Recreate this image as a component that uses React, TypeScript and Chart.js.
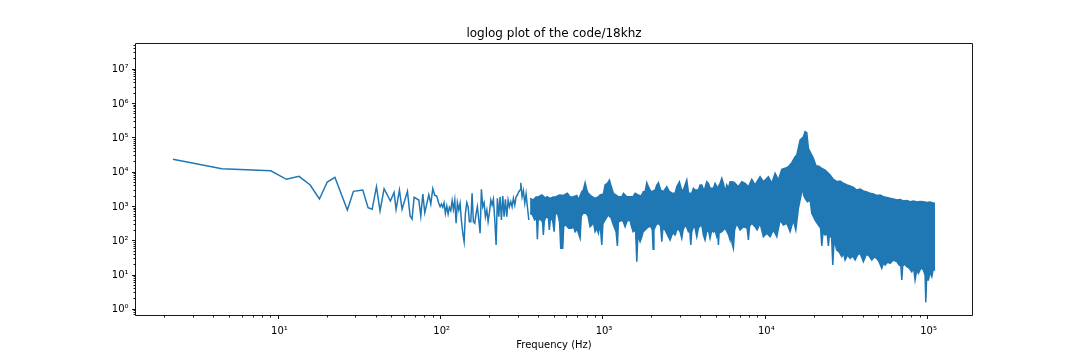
import { useEffect, useRef } from "react";
import { Chart, registerables } from "chart.js";

Chart.register(...registerables);

// ---- Data (frequency in Hz, magnitude) ----
// Low-frequency trace (individually visible samples)
const traceFreq = [
  2.24, 4.48, 8.98, 11.2, 13.4, 15.7, 17.9, 20.0, 22.3, 26.6,
  29.0, 33.1, 35.7, 37.8, 40.2, 42.3, 44.8, 49.0, 51.6, 53.1,
  55.7, 57.8, 62.4, 64.8, 66.6, 68.6, 73.3, 75.4, 77.6, 79.8,
  84.5, 86.9, 89.4, 91.9, 94.6,
  97.3, 99.2, 101.0, 103.0, 104.9, 106.9, 109.0, 111.1, 113.1, 115.4,
  117.6, 119.7, 122.1, 124.4, 126.7, 129.3, 131.7, 134.1, 136.8, 139.4,
  142.0, 144.8, 147.5, 150.3, 153.3, 156.1, 159.0, 162.2, 165.3, 168.3,
  171.7, 174.9, 178.2, 181.7, 185.1, 188.6, 192.4, 195.9, 199.6, 203.6,
  207.4, 211.2, 215.4, 219.5, 223.5, 228.0, 232.3, 236.6, 241.3, 245.8,
  250.4, 255.4, 260.2, 265.0, 270.4, 275.4, 280.5, 286.2, 291.5, 296.9,
  302.9, 308.5, 311.6, 317.4, 323.3, 329.8, 335.9, 342.2, 349.1,
];
const traceMag = [
  23700, 12600, 11000, 6180, 7560, 4220, 1650, 5160, 7070, 787,
  2760, 3010, 918, 825, 3760, 736, 3290, 1440, 2580, 825,
  3010, 825, 2760, 526, 430, 1850, 1540, 526, 2300, 656,
  2200, 1180, 3290, 2110, 2010,
  1234, 982, 1177, 943, 1285, 630, 1029, 602, 943, 751,
  1469, 825, 1540, 322, 1285, 787, 1234, 402, 165, 94,
  630, 1285, 982, 359, 359, 2415, 359, 322, 630, 982,
  402, 165, 3160, 982, 1285, 502, 787, 359, 657, 1540,
  1101, 1614, 402, 75, 1726, 502, 1922, 402, 2015, 502,
  1614, 502, 1540, 982, 1374, 982, 1726, 1101, 1922, 2155,
  2689, 3015, 4922, 1922, 2876, 1234, 2304, 982, 402,
];

// Dense part: upper envelope of the sample cloud
const bandTopFreq = [
  355.5, 371, 387, 401, 421, 440, 452, 472, 493, 514,
  539, 570, 603, 627, 657, 690, 705, 740, 757, 776,
  795, 809, 833, 863, 894, 937, 960, 1006, 1030, 1064,
  1095, 1117, 1159, 1204, 1244, 1306, 1336, 1402, 1469, 1533,
  1577, 1645, 1717, 1774, 1817, 1861, 1904, 1979, 2094, 2145,
  2195, 2264, 2356, 2472, 2554, 2665, 2781, 2849, 2956, 3050,
  3129, 3205, 3283, 3368, 3525, 3606, 3693, 3871, 3965, 4062,
  4197, 4360, 4461, 4569, 4788, 4905, 5082, 5266, 5394, 5518,
  5653, 5791, 5924, 6069, 6360, 6515, 6827, 7164, 7508, 7868,
  8257, 8652, 9288, 9733, 10450, 10966, 11492, 12043, 12638, 13243,
  13878, 14564, 15262, 15634, 16384, 16784, 17169, 17588, 18017, 18431,
  18881, 19786, 20559, 21240, 22290, 23358, 24478, 25076, 26166, 27576,
  28898, 30283, 31914, 33301, 34898, 36622, 38378, 40217, 42204, 44227,
  46347, 48637, 50969, 53412, 56052, 58739, 61554, 64596, 67692, 70937,
  74442, 78010, 81749, 85789, 89902, 94211, 98857, 103612, 108116, 111227,
];
const bandTopMag = [
  1730, 1540, 1885, 1924, 2156, 1763, 1924, 1726, 1885, 1924,
  2156, 2085, 2417, 1885, 1924, 2085, 1541, 2691, 3016, 4925,
  3016, 2466, 2156, 1885, 1726, 1924, 2156, 2306, 4220, 4730,
  5903, 4220, 2417, 2156, 1924, 1924, 2417, 1924, 1924, 1924,
  2417, 2156, 2016, 2691, 2637, 4925, 3765, 2637, 3016, 4220,
  4925, 3016, 2691, 3765, 2821, 2417, 2417, 3765, 5267, 3016,
  3016, 4220, 5903, 2417, 2417, 3381, 3016, 3016, 4220, 4220,
  2821, 5267, 4730, 3381, 3381, 4730, 3450, 4730, 6617, 4730,
  2691, 4220, 3381, 5267, 5161, 4730, 3765, 5267, 4730, 3765,
  6187, 4220, 7368, 5267, 7368, 4730, 9257, 5903, 12111, 12953,
  14418, 18866, 28223, 31634, 86630, 97090, 108100, 151190, 141410, 49611,
  39485, 25350, 15116, 15116, 12953, 11556, 9257, 8257, 6313, 5267,
  5520, 4730, 4220, 3946, 3568, 3016, 3226, 2821, 2637, 2417,
  2306, 2085, 2156, 1924, 1823, 1726, 1648, 1541, 1594, 1441,
  1490, 1375, 1441, 1348, 1394, 1375, 1303, 1348, 1260, 1235,
];

// Dense part: lower envelope (with the deep single-bin dips)
const bandBottomFreq = [
  355.5, 368, 379, 390, 394, 399, 416, 424, 429, 435,
  446, 461, 467, 474, 489, 500, 508, 525, 540, 549,
  565, 573, 592, 614, 642, 657, 673, 692, 723, 735,
  754, 787, 809, 833, 853, 873, 894, 916, 937, 960,
  983, 999, 1030, 1075, 1122, 1159, 1204, 1227, 1244, 1306,
  1336, 1368, 1408, 1469, 1490, 1533, 1588, 1615, 1641, 1693,
  1734, 1766, 1817, 1869, 1910, 1979, 2013, 2036, 2059, 2124,
  2201, 2264, 2303, 2339, 2413, 2529, 2591, 2654, 2723, 2781,
  2882, 2986, 3059, 3115, 3205, 3297, 3359, 3431, 3475, 3520,
  3606, 3693, 3784, 3871, 3965, 4062, 4155, 4256, 4348, 4461,
  4569, 4681, 4802, 4905, 5025, 5097, 5141, 5192, 5394, 5518,
  5653, 5816, 5941, 6069, 6155, 6243, 6360, 6469, 6674, 6994,
  7329, 7724, 7868, 8003, 8257, 8652, 8901, 9288, 9733, 10215,
  10705, 11218, 11772, 12337, 12928, 13566, 14217, 14898, 15414, 15993,
  16547, 17023, 17218, 17588, 18171, 18881, 19342, 20269, 21240, 21914,
  22290, 22705, 23358, 24031, 24478, 24898, 25076, 25615, 26054, 26540,
  27576, 28490, 29603, 30369, 31021, 32140, 33301, 34503, 35749, 37040,
  38378, 40217, 41788, 43173, 45307, 46810, 48637, 50250, 52213, 53412,
  54716, 56691, 58739, 61554, 64596, 66738, 68465, 69345, 70236, 72154,
  74442, 76911, 79914, 81981, 83745, 85789, 87758, 91187, 94211, 96502,
  97465, 98577, 101143, 103612, 106140, 108116, 111227,
];
const bandBottomMag = [
  631, 563, 402, 460, 110, 430, 402, 352, 147, 376,
  502, 460, 206, 430, 402, 183, 602, 631, 352, 60.2,
  60.2, 269, 288, 230, 230, 269, 183, 220, 118, 526,
  631, 631, 526, 257, 288, 352, 183, 230, 165, 308,
  75.1, 308, 402, 563, 460, 288, 183, 70.2, 352, 402,
  352, 257, 376, 402, 288, 183, 206, 24.5, 147, 93.7,
  131, 180, 206, 235, 257, 257, 206, 56.2, 206, 288,
  322, 269, 93.7, 235, 206, 131, 105, 147, 168, 147,
  235, 183, 118, 206, 288, 235, 183, 180, 75.1, 180,
  257, 235, 131, 235, 269, 288, 147, 105, 180, 206,
  118, 206, 180, 206, 131, 157, 75.1, 168, 183, 206,
  230, 180, 147, 105, 165, 84.2, 60.2, 206, 322, 206,
  257, 235, 105, 269, 322, 257, 206, 322, 131, 165,
  131, 206, 131, 402, 288, 322, 183, 402, 206, 882,
  1924, 3765, 2156, 1726, 1375, 1541, 631, 402, 288, 235,
  70.2, 180, 147, 168, 70.2, 180, 131, 128, 19.6, 105,
  53.7, 46.9, 34.2, 43.9, 27.4, 38.4, 30.7, 35.9, 27.4, 38.4,
  43.0, 24.5, 38.4, 38.4, 27.4, 33.5, 30.7, 24.0, 15.7, 22.4,
  19.6, 24.0, 22.0, 27.4, 24.5, 19.6, 18.3, 7.15, 18.3, 21.0,
  17.5, 16.0, 12.5, 16.0, 7.15, 14.0, 11.2, 16.0, 14.0, 10.0,
  1.60, 7.15, 7.15, 12.2, 8.93, 14.0, 14.0,
];

// Axes
const xTickValues = [10, 100, 1000, 10000, 100000];
const xTickLabels = ["10¹", "10²", "10³", "10⁴", "10⁵"];
const yTickValues = [1, 10, 100, 1000, 10000, 100000, 1000000, 10000000];
const yTickLabels = ["10⁰", "10¹", "10²", "10³", "10⁴", "10⁵", "10⁶", "10⁷"];
const xRange = [1.317, 189100];
const yRange = [0.659, 56600000];
const chartTitle = "loglog plot of the code/18khz";
const xAxisTitle = "Frequency (Hz)";

const LINE = "#1f77b4";
const FONT = '"DejaVu Sans", sans-serif';

function toPoints(fs: number[], vs: number[]) {
  const n = Math.min(fs.length, vs.length);
  const out: { x: number; y: number }[] = [];
  for (let i = 0; i < n; i++) out.push({ x: fs[i], y: vs[i] });
  return out;
}

const mplAxes = {
  id: "mplAxes",
  afterDraw(chart: any) {
    const ctx = chart.ctx as CanvasRenderingContext2D;
    const xs = chart.scales.x;
    const ys = chart.scales.y;
    const a = chart.chartArea;
    const L = Math.round(a.left - 0.5) + 0.5;
    const R = Math.round(a.right - 0.5) + 0.5;
    const T = Math.round(a.top - 0.5) + 0.5;
    const B = Math.round(a.bottom - 0.5) + 0.5;
    ctx.save();
    ctx.strokeStyle = "rgba(0,0,0,0.9)";
    ctx.lineWidth = 1;
    ctx.beginPath();
    ctx.rect(L, T, R - L, B - T);
    ctx.stroke();

    // ticks
    const snap = (p: number) => Math.round(p - 0.5) + 0.5;
    ctx.beginPath();
    for (let e = -1; e <= 8; e++) {
      for (let m = 1; m < 10; m++) {
        const v = m * Math.pow(10, e);
        const len = m === 1 ? 3.5 : 2;
        if (v >= xs.min && v <= xs.max) {
          const px = snap(xs.getPixelForValue(v));
          ctx.moveTo(px, B);
          ctx.lineTo(px, B + len);
        }
        if (v >= ys.min && v <= ys.max) {
          const py = snap(ys.getPixelForValue(v));
          ctx.moveTo(L, py);
          ctx.lineTo(L - len, py);
        }
      }
    }
    ctx.stroke();

    // tick labels
    ctx.fillStyle = "#000";
    ctx.font = `10px ${FONT}`;
    ctx.textAlign = "center";
    ctx.textBaseline = "alphabetic";
    xTickValues.forEach((v, i) => {
      const px = xs.getPixelForValue(v);
      ctx.fillText(xTickLabels[i], px + 1, 334);
    });
    ctx.textAlign = "right";
    ctx.textBaseline = "middle";
    yTickValues.forEach((v, i) => {
      const py = ys.getPixelForValue(v);
      ctx.fillText(yTickLabels[i], L - 7, py + 0.5);
    });

    // titles
    const cx = (a.left + a.right) / 2;
    ctx.textAlign = "center";
    ctx.textBaseline = "alphabetic";
    ctx.font = `12px ${FONT}`;
    ctx.fillText(chartTitle, cx, 37);
    ctx.font = `10px ${FONT}`;
    ctx.fillText(xAxisTitle, cx, 348);
    ctx.restore();
  },
};

export default function App() {
  const ref = useRef<HTMLCanvasElement | null>(null);
  useEffect(() => {
    if (!ref.current) return;
    const chart = new Chart(ref.current, {
      type: "line",
      data: {
        datasets: [
          {
            data: toPoints(traceFreq, traceMag),
            borderColor: LINE,
            borderWidth: 1.5,
            pointRadius: 0,
            fill: false,
            tension: 0,
          },
          {
            data: toPoints(bandTopFreq, bandTopMag),
            borderColor: LINE,
            backgroundColor: LINE,
            borderWidth: 1.5,
            pointRadius: 0,
            fill: "+1",
            tension: 0,
          },
          {
            data: toPoints(bandBottomFreq, bandBottomMag),
            borderColor: LINE,
            borderWidth: 1.5,
            pointRadius: 0,
            fill: false,
            tension: 0,
          },
        ],
      },
      options: {
        animation: false,
        responsive: false,
        devicePixelRatio: 1,
        parsing: true,
        events: [],
        layout: { padding: { left: 135.5, right: 107.5, top: 43.5, bottom: 44.5 } },
        scales: {
          x: { type: "logarithmic", min: xRange[0], max: xRange[1], display: false },
          y: { type: "logarithmic", min: yRange[0], max: yRange[1], display: false },
        },
        plugins: {
          legend: { display: false },
          tooltip: { enabled: false },
          title: { display: false },
        },
      },
      plugins: [mplAxes],
    } as any);
    return () => chart.destroy();
  }, []);
  return (
    <div style={{ position: "fixed", left: 0, top: 0, width: 1080, height: 360, background: "#fff" }}>
      <canvas ref={ref} width={1080} height={360} style={{ display: "block" }} />
    </div>
  );
}
